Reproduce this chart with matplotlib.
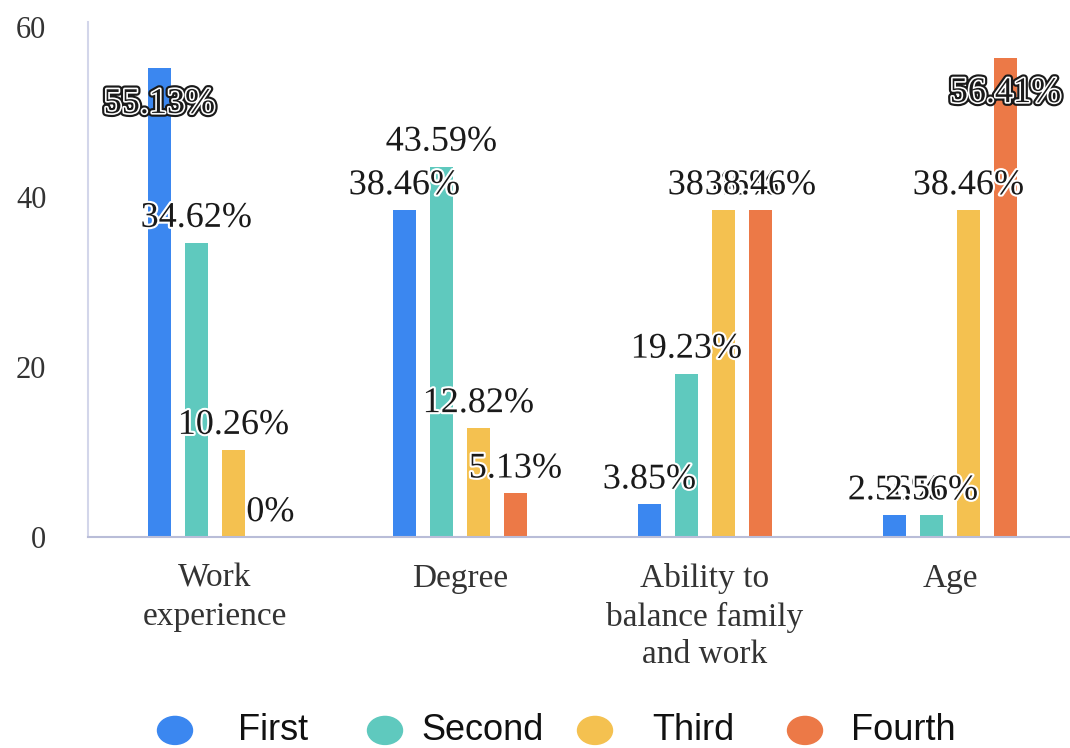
import numpy as np
import matplotlib
matplotlib.use('Agg')
import matplotlib.pyplot as plt
import matplotlib.patheffects as pe
from matplotlib.patches import Ellipse

categories = ['Work\nexperience', 'Degree', 'Ability to\nbalance family\nand work', 'Age']
series = ['First', 'Second', 'Third', 'Fourth']
first = [55.13, 38.46, 3.85, 2.56]
second = [34.62, 43.59, 19.23, 2.56]
third = [10.26, 12.82, 38.46, 38.46]
fourth = [0.0, 5.13, 38.46, 56.41]
colors = ['#3B87F0', '#5FC9BE', '#F4C150', '#EC7947']

values = [first, second, third, fourth]

serif = ['Liberation Serif', 'DejaVu Serif']
sans = ['Liberation Sans', 'DejaVu Sans']

fig = plt.figure(figsize=(10.7, 7.48), dpi=100)
ax = fig.add_axes([0.0822, 0.282, 0.9178, 0.6885])

x = np.arange(len(categories))
step = 0.151
width = 0.094

halo = [pe.withStroke(linewidth=3, foreground='white')]
outlined = [pe.Stroke(linewidth=5.5, foreground='#1a1a1a'),
            pe.Stroke(linewidth=2.4, foreground='white'),
            pe.Normal()]

for i, vals in enumerate(values):
    pos = x + (i - 1.5) * step
    ax.bar(pos, vals, width=width, color=colors[i], zorder=2)
    for xp, v in zip(pos, vals):
        if v > 50:
            # no room above the top bar, label goes inside it
            ax.annotate(f'{v:g}%', (xp, v), xytext=(0, -32), textcoords='offset points',
                        ha='center', va='baseline', fontsize=26, family=serif,
                        color='#1a1a1a', path_effects=outlined, zorder=4)
        else:
            ax.annotate(f'{v:g}%', (xp, v), xytext=(0, 11.5), textcoords='offset points',
                        ha='center', va='baseline', fontsize=26, family=serif,
                        color='#1a1a1a', path_effects=halo, zorder=3)

ax.set_xlim(-0.518, 3.49)
ax.set_ylim(0, 60.59)
ax.set_yticks([0, 20, 40, 60])
ax.set_xticks(x)
ax.set_xticklabels(categories, family=serif, fontsize=24, color='#333333', linespacing=1.3)
for lab in ax.get_yticklabels():
    lab.set_family(serif)
    lab.set_fontsize(22)
    lab.set_color('#333333')
ax.tick_params(axis='y', length=0, pad=30)
ax.tick_params(axis='x', length=0, pad=19)

for s in ['top', 'right']:
    ax.spines[s].set_visible(False)
ax.spines['left'].set_color('#d3d6ea')
ax.spines['left'].set_linewidth(1.5)
ax.spines['bottom'].set_color('#b9bdd8')
ax.spines['bottom'].set_linewidth(1.5)

# legend row along the bottom
for i, name in enumerate(series):
    cx = (175 + 210 * i) / 1070
    fig.add_artist(Ellipse((cx, 0.0235), 35 / 1070, 28 / 748, transform=fig.transFigure,
                           color=colors[i]))
    fig.text(cx + 98 / 1070, 0.023, name, ha='center', va='center',
             fontsize=26, family=sans, color='#111111')

fig.savefig('out.png', dpi=100)
